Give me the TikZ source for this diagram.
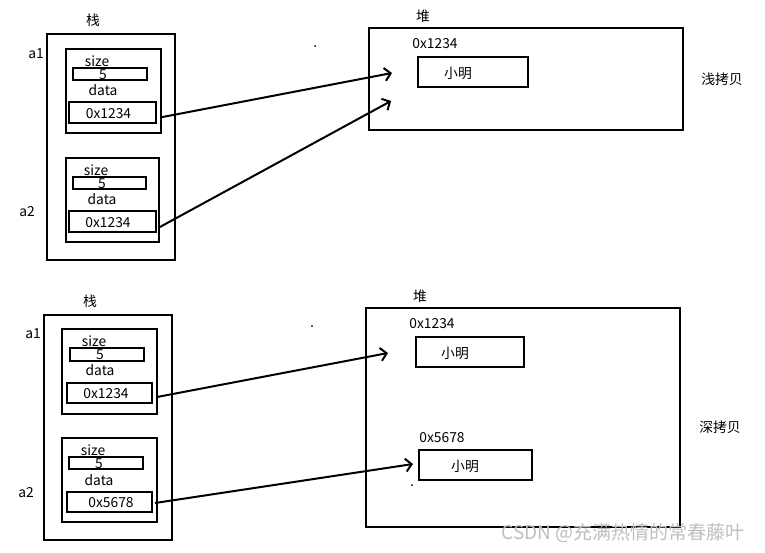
\documentclass[tikz,border=0pt]{standalone}
\usepackage{fontspec}
\setmainfont{Noto Sans CJK SC}
\usetikzlibrary{arrows.meta}
\begin{document}
\begin{tikzpicture}[x=1pt,y=-1pt,
  box/.style={draw=black,line width=2pt,inner sep=0pt,outer sep=0pt},
  lbl/.style={inner sep=0pt,font=\fontsize{13.8}{15}\selectfont},
  ptr/.style={line width=2pt,-{Straight Barb[length=6pt,width=13pt,line width=2pt]}},
  dot/.style={fill=black,inner sep=0pt,minimum size=2pt,circle}]
\useasboundingbox[fill=white] (0,0) rectangle (765,552);
% ---------- top: shallow copy ----------
\node[lbl] (stk1) at (93,20) {栈};
\node[box,minimum width=128,minimum height=226] (stackA) at (111,147) {};
\node[lbl] (a1t) at (36,54) {a1};
\node[box,minimum width=95,minimum height=84] (a1box) at (113.5,91) {};
\node[lbl] (sz1) at (97,61) {size};
\node[box,line width=1.8pt,minimum width=74,minimum height=12] (size1) at (110,74) {};
\node[lbl] (v1) at (103,74.5) {5};
\node[lbl] (d1) at (103,90) {data};
\node[box,minimum width=87,minimum height=21] (ptr1) at (112.5,112.5) {};
\node[lbl] (p1t) at (108.5,113.5) {0x1234};
\node[lbl] (a2t) at (27,212) {a2};
\node[box,minimum width=93,minimum height=84] (a2box) at (112.5,200) {};
\node[lbl] (sz2) at (96,170) {size};
\node[box,line width=1.8pt,minimum width=73,minimum height=12] (size2) at (109.5,183) {};
\node[lbl] (v2) at (102,183.5) {5};
\node[lbl] (d2) at (102,199) {data};
\node[box,minimum width=87,minimum height=21] (ptr2) at (112.5,221.5) {};
\node[lbl] (p2t) at (108,222.5) {0x1234};
\node[lbl] (heapt1) at (423,16) {堆};
\node[box,minimum width=314,minimum height=102] (heapA) at (526,79) {};
\node[lbl] (addr1) at (435,44) {0x1234};
\node[box,minimum width=110,minimum height=30] (obj1) at (473,72) {};
\node[lbl] (obj1t) at (458,73) {小明};
\node[lbl] (shallow) at (722,79) {浅拷贝};
\node[dot] (dotA) at (315,46) {};
\coordinate (tipA1) at (392,73);
\coordinate (tipA2) at (391,101);
\draw[ptr] ([xshift=4pt,yshift=-5pt]ptr1.east) -- (tipA1);
\draw[ptr] ([xshift=3pt,yshift=-6pt]ptr2.east) -- (tipA2);
% ---------- bottom: deep copy ----------
\node[lbl] (stk2) at (90,301) {栈};
\node[box,minimum width=128,minimum height=225] (stackB) at (108,427.5) {};
\node[lbl] (b1t) at (33,334) {a1};
\node[box,minimum width=95,minimum height=85] (b1box) at (109.5,371.5) {};
\node[lbl] (bsz1) at (94,341) {size};
\node[box,line width=1.8pt,minimum width=74,minimum height=13] (bsize1) at (107,354.5) {};
\node[lbl] (bv1) at (100,355) {5};
\node[lbl] (bd1) at (100,370) {data};
\node[box,minimum width=85,minimum height=20] (bptr1) at (109.5,393) {};
\node[lbl] (bp1t) at (106,394) {0x1234};
\node[lbl] (b2t) at (26,493) {a2};
\node[box,minimum width=95,minimum height=84] (b2box) at (109.5,480) {};
\node[lbl] (bsz2) at (93,450) {size};
\node[box,line width=1.8pt,minimum width=74,minimum height=12] (bsize2) at (106,463) {};
\node[lbl] (bv2) at (99,464) {5};
\node[lbl] (bd2) at (99,480) {data};
\node[box,minimum width=85,minimum height=20] (bptr2) at (109.5,502) {};
\node[lbl] (bp2t) at (111,503) {0x5678};
\node[lbl] (heapt2) at (420,296) {堆};
\node[box,minimum width=314,minimum height=219] (heapB) at (523,417.5) {};
\node[lbl] (addr2) at (432,324) {0x1234};
\node[box,minimum width=108,minimum height=30] (obj2) at (470,352) {};
\node[lbl] (obj2t) at (455,353) {小明};
\node[lbl] (addr3) at (442,438) {0x5678};
\node[box,minimum width=113,minimum height=30] (obj3) at (475.5,465) {};
\node[lbl] (obj3t) at (465,466) {小明};
\node[lbl] (deep) at (720,427) {深拷贝};
\node[dot] (dotB) at (312,326) {};
\node[dot] (dotC) at (412,485) {};
\coordinate (tipB1) at (388,353);
\coordinate (tipB2) at (413,464);
\draw[ptr] ([xshift=5pt,yshift=-4pt]bptr1.east) -- (tipB1);
\draw[ptr] ([xshift=3pt,yshift=-1pt]bptr2.east) -- (tipB2);
% watermark
\node[inner sep=0pt,text=black!25,font=\fontsize{19}{21}\selectfont] (wm) at (623,533) {CSDN @充满热情的常春藤叶};
\end{tikzpicture}
\end{document}
